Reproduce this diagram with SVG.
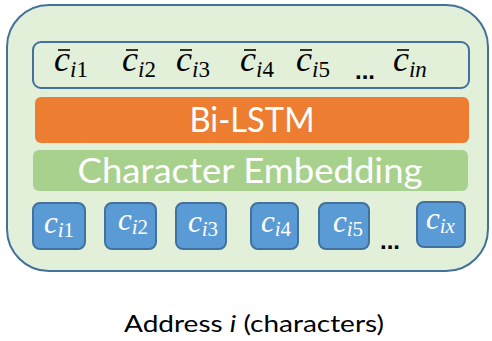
<svg xmlns="http://www.w3.org/2000/svg" width="492" height="341" viewBox="0 0 492 341">
<style>
.m{font-family:"Liberation Serif","DejaVu Serif",serif;font-style:italic;fill:#000}
.mw{font-family:"Liberation Serif","DejaVu Serif",serif;font-style:italic;fill:#fff}
.up{font-style:normal}
.sb{font-size:23px}
.sw{font-size:21px}
.cb{fill:#5b9bd5;stroke:#41719c;stroke-width:2}
.lbl{font-family:"Lato","Open Sans","Liberation Sans",sans-serif;fill:#fff}
.bar{stroke:#000;stroke-width:1.6}
</style>
<g id="outer"><rect x="7" y="5" width="481" height="266" rx="42" fill="#e2efd9" stroke="#41719c" stroke-width="2"/></g>
<g id="outputs">
<rect x="33" y="42" width="436" height="46" rx="8" fill="#e2efd9" stroke="#41719c" stroke-width="2"/>
<g font-size="36">
<text class="m" x="54" y="71">c<tspan class="sb" dy="6">i</tspan><tspan class="sb up">1</tspan></text>
<text class="m" x="122" y="71">c<tspan class="sb" dy="6">i</tspan><tspan class="sb up">2</tspan></text>
<text class="m" x="176" y="71">c<tspan class="sb" dy="6">i</tspan><tspan class="sb up">3</tspan></text>
<text class="m" x="240" y="71">c<tspan class="sb" dy="6">i</tspan><tspan class="sb up">4</tspan></text>
<text class="m" x="296" y="71">c<tspan class="sb" dy="6">i</tspan><tspan class="sb up">5</tspan></text>
<text class="m" x="393" y="71">c<tspan class="sb" dy="6">in</tspan></text>
</g>
<line class="bar" x1="58" y1="50" x2="70" y2="50"/>
<line class="bar" x1="126" y1="50" x2="138" y2="50"/>
<line class="bar" x1="180" y1="50" x2="192" y2="50"/>
<line class="bar" x1="244" y1="50" x2="256" y2="50"/>
<line class="bar" x1="300" y1="50" x2="312" y2="50"/>
<line class="bar" x1="397" y1="50" x2="409" y2="50"/>
<text x="355" y="79" font-family="Liberation Sans,sans-serif" font-weight="bold" font-size="24" fill="#000">...</text>
</g>
<g id="bilstm"><rect x="35" y="97" width="434" height="46" rx="6" fill="#ed7d31"/>
<text class="lbl" x="252" y="132" font-size="35" text-anchor="middle" textLength="125" lengthAdjust="spacingAndGlyphs">Bi-LSTM</text></g>
<g id="embedding"><rect x="33" y="150" width="435" height="41" rx="6" fill="#a9d18e"/>
<text class="lbl" x="250" y="183" font-size="35" text-anchor="middle" textLength="345" lengthAdjust="spacingAndGlyphs">Character Embedding</text></g>
<g id="c1"><rect class="cb" x="33" y="203" width="52" height="46" rx="7"/><text class="mw" x="44" y="233" font-size="31">c<tspan class="sw" dy="4">i</tspan><tspan class="sw up">1</tspan></text></g>
<g id="c2"><rect class="cb" x="105" y="203" width="51" height="46" rx="7"/><text class="mw" x="118" y="230" font-size="31">c<tspan class="sw" dy="4">i</tspan><tspan class="sw up">2</tspan></text></g>
<g id="c3"><rect class="cb" x="176" y="203" width="50" height="46" rx="7"/><text class="mw" x="188" y="232" font-size="31">c<tspan class="sw" dy="4">i</tspan><tspan class="sw up">3</tspan></text></g>
<g id="c4"><rect class="cb" x="251" y="203" width="47" height="46" rx="7"/><text class="mw" x="261" y="232" font-size="31">c<tspan class="sw" dy="4">i</tspan><tspan class="sw up">4</tspan></text></g>
<g id="c5"><rect class="cb" x="319" y="203" width="50" height="46" rx="7"/><text class="mw" x="333" y="232" font-size="31">c<tspan class="sw" dy="4">i</tspan><tspan class="sw up">5</tspan></text></g>
<g id="cx"><rect class="cb" x="417" y="202" width="48" height="45" rx="7"/><text class="mw" x="426" y="229" font-size="31">c<tspan class="sw" dy="4">ix</tspan></text></g>
<text x="380" y="249" font-family="Liberation Sans,sans-serif" font-weight="bold" font-size="24" fill="#000">...</text>
<text x="254" y="332" font-family="Lato,Open Sans,Liberation Sans,sans-serif" font-size="24" fill="#000" text-anchor="middle" textLength="260" lengthAdjust="spacingAndGlyphs">Address <tspan font-style="italic">i</tspan> (characters)</text>
</svg>
